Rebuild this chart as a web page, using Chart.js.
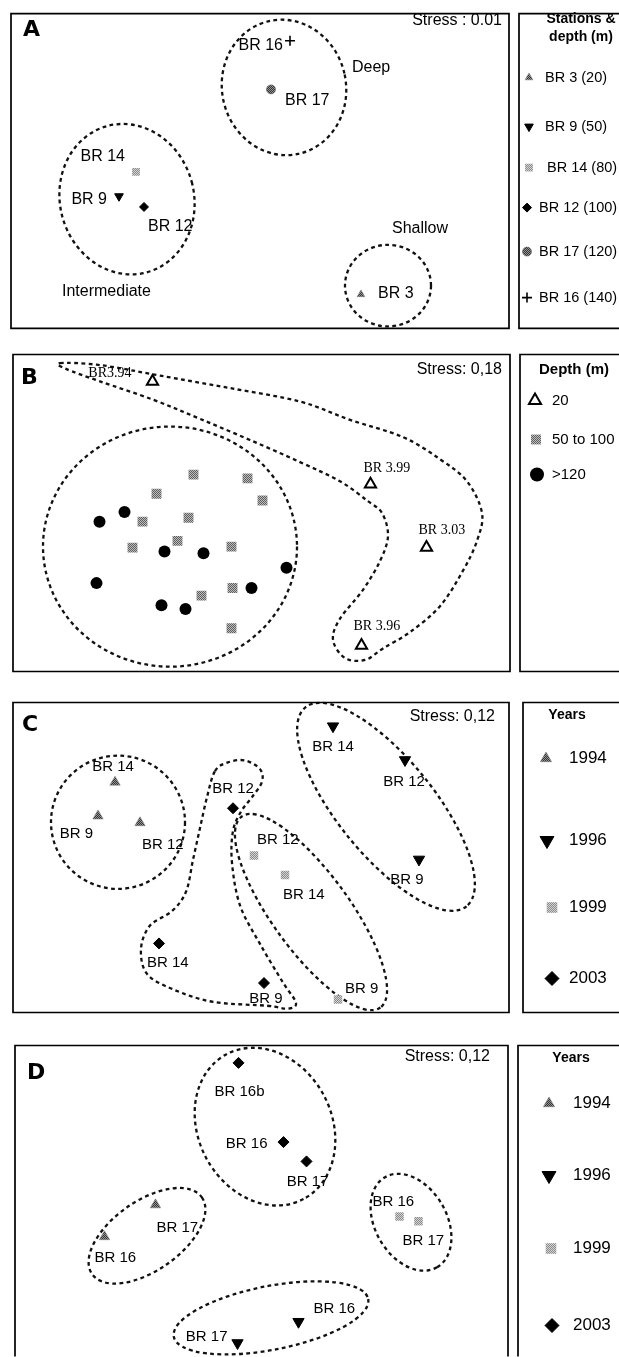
<!DOCTYPE html>
<html>
<head>
<meta charset="utf-8">
<script src="https://cdn.jsdelivr.net/npm/chart.js@4.4.1/dist/chart.umd.min.js"></script>
<style>
  html, body { margin: 0; padding: 0; background: #fff; }
  body { width: 619px; height: 1357px; position: relative; overflow: hidden; }
  canvas { position: absolute; left: 0; }
</style>
</head>
<body>
<canvas id="panelA"></canvas>
<canvas id="panelB"></canvas>
<canvas id="panelC"></canvas>
<canvas id="panelD"></canvas>
<script>
// ---- A: one point per station (MDS axis 1 / axis 2) ----
const stationsA = ['BR 3', 'BR 9', 'BR 14', 'BR 12', 'BR 17', 'BR 16'];
const depthsA = [20, 50, 80, 100, 120, 140];
const axis1A = [1.01, -1.41, -1.24, -1.16, 0.11, 0.30];
const axis2A = [-1.27, -0.26, -0.01, -0.37, 0.84, 1.34];
const stressA = '0.01';

// ---- B: samples grouped by depth class ----
const depthClassesB = ['20', '50 to 100', '>120'];
const shallowNamesB = ['BR3.94', 'BR 3.99', 'BR 3.03', 'BR 3.96'];
const shallowX_B = [-1.09, 1.09, 1.65, 1.00];
const shallowY_B = [1.37, 0.30, -0.36, -1.38];
const midX_B = [-0.68, -0.14, -1.05, 0.01, -1.19, -0.73, -0.84, -1.29, -0.30, -0.29, -0.60, -0.30];
const midY_B = [0.40, 0.36, 0.20, 0.13, -0.09, -0.05, -0.29, -0.36, -0.35, -0.78, -0.86, -1.20];
const deepX_B = [-1.37, -1.62, -0.97, -0.58, 0.25, -1.65, -0.10, -1.00, -0.76];
const deepY_B = [0.01, -0.09, -0.40, -0.42, -0.57, -0.73, -0.78, -0.96, -1.00];
const stressB = '0,18';

// ---- C: intermediate stations by year ----
const years = ['1994', '1996', '1999', '2003'];
const c1994Names = ['BR 14', 'BR 9', 'BR 12'];
const c1994X = [-1.46, -1.63, -1.21];
const c1994Y = [0.78, 0.43, 0.36];
const c1996Names = ['BR 14', 'BR 12', 'BR 9'];
const c1996X = [0.72, 1.44, 1.58];
const c1996Y = [1.36, 1.01, -0.02];
const c1999Names = ['BR 12', 'BR 14', 'BR 9'];
const c1999X = [-0.07, 0.24, 0.77];
const c1999Y = [0.02, -0.18, -1.47];
const c2003Names = ['BR 12', 'BR 14', 'BR 9'];
const c2003X = [-0.28, -1.02, 0.03];
const c2003Y = [0.51, -0.89, -1.30];
const stressC = '0,12';

// ---- D: deep stations by year ----
const d1994Names = ['BR 17', 'BR 16'];
const d1994X = [-1.06, -1.57];
const d1994Y = [-0.04, -0.37];
const d1996Names = ['BR 16', 'BR 17'];
const d1996X = [0.37, -0.24];
const d1996Y = [-1.25, -1.47];
const d1999Names = ['BR 16', 'BR 17'];
const d1999X = [1.38, 1.57];
const d1999Y = [-0.16, -0.21];
const d2003Names = ['BR 16b', 'BR 16', 'BR 17'];
const d2003X = [-0.23, 0.22, 0.45];
const d2003Y = [1.43, 0.61, 0.41];
const stressD = '0,12';

// ---------------------------------------------------------------
const SANS = '"Liberation Sans", Arial, sans-serif';
const SERIF = '"Liberation Serif", "Times New Roman", serif';
const W = 619;

function halftone(a, b) {
  const c = document.createElement('canvas');
  c.width = 2; c.height = 2;
  const g = c.getContext('2d');
  g.fillStyle = b; g.fillRect(0, 0, 2, 2);
  g.fillStyle = a; g.fillRect(0, 0, 1, 1); g.fillRect(1, 1, 1, 1);
  return g.createPattern(c, 'repeat');
}
const dotDark = halftone('#333333', '#959595');
const dotMid = halftone('#5e5e5e', '#bdbdbd');
const dotLight = halftone('#8a8a8a', '#d4d4d4');

// marker looks
const MK = {
  triGray:  { style: 'triangle', rot: 0,   bg: dotDark, bd: '#777', bw: 0.5 },
  triDown:  { style: 'triangle', rot: 180, bg: '#000', bd: '#000', bw: 1 },
  sqLight:  { style: 'rect',     rot: 0,   bg: dotLight, bd: '#bbb', bw: 0 },
  sqMid:    { style: 'rect',     rot: 0,   bg: dotMid, bd: '#999', bw: 0 },
  diamond:  { style: 'rectRot',  rot: 0,   bg: '#000', bd: '#000', bw: 1 },
  dotGray:  { style: 'circle',   rot: 0,   bg: dotDark, bd: '#444', bw: 0.5 },
  plus:     { style: 'cross',    rot: 0,   bg: '#000', bd: '#000', bw: 1.6 },
  triOpen:  { style: 'triangle', rot: 0,   bg: '#fff', bd: '#000', bw: 2 },
  dotBlack: { style: 'circle',   rot: 0,   bg: '#000', bd: '#000', bw: 0 }
};

function series(xs, ys, mk, r) {
  return {
    data: xs.map((x, i) => ({ x: x, y: ys[i] })),
    pointStyle: mk.style,
    pointRotation: mk.rot,
    pointRadius: r,
    pointBackgroundColor: mk.bg,
    pointBorderColor: mk.bd,
    pointBorderWidth: mk.bw,
    showLine: false
  };
}

function marker(ctx, mk, r, x, y) {
  ctx.save();
  ctx.fillStyle = mk.bg;
  ctx.strokeStyle = mk.bd;
  ctx.lineWidth = mk.bw;
  Chart.helpers.drawPoint(ctx, { pointStyle: mk.style, rotation: mk.rot, radius: r, borderWidth: mk.bw }, x, y);
  ctx.restore();
}

// closed Catmull-Rom outline through pixel points
function smoothClosed(ctx, p) {
  const n = p.length;
  ctx.moveTo(p[0][0], p[0][1]);
  for (let i = 0; i < n; i++) {
    const p0 = p[(i - 1 + n) % n], p1 = p[i], p2 = p[(i + 1) % n], p3 = p[(i + 2) % n];
    ctx.bezierCurveTo(p1[0] + (p2[0] - p0[0]) / 6, p1[1] + (p2[1] - p0[1]) / 6,
                      p2[0] - (p3[0] - p1[0]) / 6, p2[1] - (p3[1] - p1[1]) / 6,
                      p2[0], p2[1]);
  }
  ctx.closePath();
}

// box with an optional missing bottom edge (panel D runs off the page)
function frame(ctx, x0, y0, x1, y1, openBottom) {
  ctx.beginPath();
  if (openBottom) {
    ctx.moveTo(x0, y1); ctx.lineTo(x0, y0); ctx.lineTo(x1, y0); ctx.lineTo(x1, y1);
  } else {
    ctx.rect(x0, y0, x1 - x0, y1 - y0);
  }
  ctx.stroke();
}

function decorPlugin(d) {
  return {
    id: 'panelDecor',
    beforeDatasetsDraw(chart) {
      const { ctx, scales: { x, y } } = chart;
      const ux = x.getPixelForValue(1) - x.getPixelForValue(0);
      const uy = y.getPixelForValue(0) - y.getPixelForValue(1);
      ctx.save();
      ctx.strokeStyle = '#111';
      ctx.lineWidth = 2.3;
      ctx.setLineDash([3.8, 3.4]);
      (d.ellipses || []).forEach(e => {
        ctx.beginPath();
        ctx.ellipse(x.getPixelForValue(e.c[0]), y.getPixelForValue(e.c[1]),
                    e.r[0] * ux, e.r[1] * uy, (e.rot || 0) * Math.PI / 180, 0, Math.PI * 2);
        ctx.stroke();
      });
      (d.outlines || []).forEach(o => {
        ctx.beginPath();
        smoothClosed(ctx, o.map(q => [x.getPixelForValue(q[0]), y.getPixelForValue(q[1])]));
        ctx.stroke();
      });
      ctx.restore();
    },
    afterDatasetsDraw(chart) {
      const { ctx, scales: { x, y } } = chart;
      ctx.save();
      ctx.fillStyle = '#000';
      ctx.textBaseline = 'middle';
      ctx.font = d.labelFont;
      d.labels.forEach((names, di) => {
        if (!names.length) return;
        chart.getDatasetMeta(di).data.forEach((pt, i) => {
          const [dx, dy, al] = d.labelPos[di][i];
          ctx.textAlign = al;
          ctx.fillText(names[i], pt.x + dx, pt.y + dy);
        });
      });
      ctx.font = '16px ' + SANS;
      ctx.textAlign = 'left';
      (d.notes || []).forEach(n => ctx.fillText(n.text, x.getPixelForValue(n.x), y.getPixelForValue(n.y)));
      ctx.restore();
    },
    afterDraw(chart) {
      const { ctx, chartArea: a } = chart;
      const g = d.geom;
      ctx.save();
      ctx.strokeStyle = '#000';
      ctx.lineWidth = 1.7;
      frame(ctx, a.left, a.top, a.right, a.bottom, g.openBottom);
      frame(ctx, g.legendLeft, a.top, g.legendLeft + 200, a.bottom, g.openBottom);
      // panel letter and stress
      ctx.fillStyle = '#000';
      ctx.textBaseline = 'middle';
      ctx.textAlign = 'left';
      ctx.font = 'bold 22px "DejaVu Sans", ' + SANS;
      ctx.fillText(d.letter.text, a.left + d.letter.dx, a.top + d.letter.dy);
      ctx.textAlign = 'right';
      ctx.font = '16px ' + SANS;
      ctx.fillText(d.stress.text, a.right - d.stress.dx, a.top + d.stress.dy);
      // legend
      const L = d.legend;
      ctx.textAlign = 'center';
      ctx.font = 'bold ' + L.titleSize + 'px ' + SANS;
      L.title.forEach((t, i) => ctx.fillText(t, L.titleX, a.top + L.titleY[i]));
      ctx.textAlign = 'left';
      ctx.font = L.size + 'px ' + SANS;
      L.entries.forEach((e, i) => {
        marker(ctx, e.mk, e.r, L.markX[i], a.top + L.itemY[i]);
        ctx.fillStyle = '#000';
        ctx.fillText(e.text, L.textX[i], a.top + L.itemY[i]);
      });
      ctx.restore();
    }
  };
}

function makeChart(id, d, datasets) {
  const g = d.geom;
  const cv = document.getElementById(id);
  const H = g.bottom - g.top;
  cv.width = W;
  cv.height = H + 4;
  cv.style.top = (g.top - 2) + 'px';
  const hw = (g.right - g.left) / 200, hh = H / 200;
  return new Chart(cv, {
    type: 'scatter',
    data: { datasets: datasets },
    options: {
      responsive: false,
      animation: false,
      events: [],
      layout: { padding: { left: g.left, right: W - g.right, top: 2, bottom: 2 } },
      scales: {
        x: { type: 'linear', min: -hw, max: hw, display: false },
        y: { type: 'linear', min: -hh, max: hh, display: false }
      },
      plugins: { legend: { display: false }, tooltip: { enabled: false } }
    },
    plugins: [decorPlugin(d)]
  });
}

// ---------------- panel A ----------------
const mkA = [MK.triGray, MK.triDown, MK.sqLight, MK.diamond, MK.dotGray, MK.plus];
const rA = [4.5, 5, 5.5, 4.5, 4.5, 5];
makeChart('panelA', {
  geom: { top: 9, bottom: 333, left: 11, right: 509, legendLeft: 519 },
  letter: { text: 'A', dx: 12, dy: 17 },
  stress: { text: 'Stress : ' + stressA, dx: 7, dy: 7 },
  labelFont: '16px ' + SANS,
  labels: stationsA.map(s => [s]),
  labelPos: [[[17, -1, 'left']], [[-12, 3, 'right']], [[-11, -15, 'right']],
             [[4, 20, 'left']], [[14, 11, 'left']], [[-7, 5, 'right']]],
  notes: [{ text: 'Deep', x: 0.92, y: 1.06 },
          { text: 'Intermediate', x: -1.98, y: -1.24 },
          { text: 'Shallow', x: 1.32, y: -0.59 }],
  ellipses: [{ c: [0.24, 0.86], r: [0.62, 0.70], rot: -12 },
             { c: [-1.33, -0.29], r: [0.67, 0.78], rot: -15 },
             { c: [1.28, -1.18], r: [0.43, 0.42], rot: 0 }],
  legend: {
    title: ['Stations &', 'depth (m)'], titleX: 581, titleY: [6, 24], titleSize: 14, size: 14.5,
    itemY: [64, 113, 154, 194, 238, 284],
    markX: [529, 529, 529, 527, 527, 527],
    textX: [545, 545, 547, 539, 539, 539],
    entries: stationsA.map((s, i) => ({ text: s + ' (' + depthsA[i] + ')', mk: mkA[i], r: rA[i] }))
  }
}, stationsA.map((s, i) => series([axis1A[i]], [axis2A[i]], mkA[i], rA[i])));

// ---------------- panel B ----------------
makeChart('panelB', {
  geom: { top: 348, bottom: 678, left: 13, right: 510, legendLeft: 520 },
  letter: { text: 'B', dx: 8, dy: 24 },
  stress: { text: 'Stress: ' + stressB, dx: 8, dy: 15 },
  labelFont: '14px ' + SERIF,
  labels: [shallowNamesB, [], []],
  labelPos: [[[-21, -8, 'right'], [-7, -16, 'left'], [-8, -17, 'left'], [-8, -19, 'left']], [], []],
  ellipses: [{ c: [-0.915, -0.35], r: [1.27, 1.25], rot: 0 }],
  outlines: [[
    [-2.015, 1.56], [-1.615, 1.54], [-1.015, 1.43], [-0.315, 1.30], [0.385, 1.16], [0.885, 0.97],
    [1.415, 0.79], [1.785, 0.56], [2.055, 0.33], [2.205, 0.00], [2.155, -0.29], [2.015, -0.60],
    [1.785, -0.97], [1.485, -1.24], [1.215, -1.41], [1.035, -1.53], [0.835, -1.51], [0.715, -1.32],
    [0.785, -1.10], [1.015, -0.80], [1.185, -0.50], [1.265, -0.24], [1.205, 0.00], [1.055, 0.13],
    [0.785, 0.33], [0.385, 0.53], [-0.115, 0.76], [-0.615, 0.98], [-1.085, 1.18], [-1.615, 1.37],
    [-1.955, 1.50]
  ]],
  legend: {
    title: ['Depth (m)'], titleX: 574, titleY: [15], titleSize: 15, size: 15,
    itemY: [46, 85, 120],
    markX: [535, 536, 537],
    textX: [552, 552, 552],
    entries: [{ text: depthClassesB[0], mk: MK.triOpen, r: 7 },
              { text: depthClassesB[1], mk: MK.sqMid, r: 7 },
              { text: depthClassesB[2], mk: MK.dotBlack, r: 7 }]
  }
}, [series(shallowX_B, shallowY_B, MK.triOpen, 6.5),
    series(midX_B, midY_B, MK.sqMid, 7),
    series(deepX_B, deepY_B, MK.dotBlack, 6)]);

// ---------------- panel C ----------------
const mkYears = [MK.triGray, MK.triDown, MK.sqLight, MK.diamond];
const yearLegend = (rel, mx, tx) => ({
  title: ['Years'], titleX: tx - 2, titleY: [13], titleSize: 14, size: 17,
  itemY: rel, markX: mx, textX: [tx, tx, tx, tx],
  entries: years.map((t, i) => ({ text: t, mk: mkYears[i], r: [6.5, 8, 7.5, 7][i] }))
});
makeChart('panelC', {
  geom: { top: 697, bottom: 1018, left: 13, right: 509, legendLeft: 523 },
  letter: { text: 'C', dx: 9, dy: 23 },
  stress: { text: 'Stress: ' + stressC, dx: 14, dy: 14 },
  labelFont: '15px ' + SANS,
  labels: [c1994Names, c1996Names, c1999Names, c2003Names],
  labelPos: [
    [[-2, -15, 'center'], [-5, 18, 'right'], [2, 22, 'left']],
    [[0, 21, 'center'], [-1, 22, 'center'], [-12, 20, 'center']],
    [[3, -16, 'left'], [-2, 20, 'left'], [7, -11, 'left']],
    [[0, -19, 'center'], [-12, 19, 'left'], [2, 16, 'center']]
  ],
  ellipses: [{ c: [-1.43, 0.365], r: [0.67, 0.69], rot: 0 },
             { c: [1.25, 0.525], r: [1.28, 0.50], rot: 51 },
             { c: [0.50, -0.565], r: [1.18, 0.40], rot: 54 }],
  outlines: [[
    [-0.46, 0.895], [-0.33, 0.985], [-0.16, 1.005], [-0.01, 0.915], [0.01, 0.785], [-0.09, 0.625],
    [-0.20, 0.475], [-0.28, 0.275], [-0.29, -0.055], [-0.21, -0.495], [-0.01, -0.895], [0.22, -1.295],
    [0.35, -1.505], [0.27, -1.565], [0.06, -1.535], [-0.48, -1.495], [-0.88, -1.365], [-1.14, -1.205],
    [-1.20, -0.945], [-1.11, -0.705], [-0.89, -0.555], [-0.75, -0.355], [-0.68, -0.025], [-0.61, 0.305],
    [-0.54, 0.625]
  ]],
  legend: yearLegend([56, 138, 205, 276], [546, 547, 552, 552], 569)
}, [series(c1994X, c1994Y, MK.triGray, 6),
    series(c1996X, c1996Y, MK.triDown, 6.5),
    series(c1999X, c1999Y, MK.sqLight, 6),
    series(c2003X, c2003Y, MK.diamond, 5.5)]);

// ---------------- panel D ----------------
makeChart('panelD', {
  geom: { top: 1040, bottom: 1362, left: 15, right: 508, legendLeft: 518, openBottom: true },
  letter: { text: 'D', dx: 12, dy: 28 },
  stress: { text: 'Stress: ' + stressD, dx: 18, dy: 11 },
  labelFont: '15px ' + SANS,
  labels: [d1994Names, d1996Names, d1999Names, d2003Names],
  labelPos: [
    [[1, 23, 'left'], [-10, 21, 'left']],
    [[15, -13, 'left'], [-10, -6, 'right']],
    [[-27, -15, 'left'], [-16, 20, 'left']],
    [[1, 29, 'center'], [-16, 2, 'right'], [1, 20, 'center']]
  ],
  ellipses: [{ c: [0.035, 0.77], r: [0.82, 0.69], rot: 62 },
             { c: [-1.145, -0.36], r: [0.67, 0.36], rot: -35 },
             { c: [1.495, -0.22], r: [0.52, 0.37], rot: 60 },
             { c: [0.095, -1.21], r: [0.99, 0.33], rot: -11 }],
  legend: yearLegend([58, 130, 203, 280], [549, 549, 551, 552], 573)
}, [series(d1994X, d1994Y, MK.triGray, 6),
    series(d1996X, d1996Y, MK.triDown, 6.5),
    series(d1999X, d1999Y, MK.sqLight, 6),
    series(d2003X, d2003Y, MK.diamond, 5.5)]);
</script>
</body>
</html>
